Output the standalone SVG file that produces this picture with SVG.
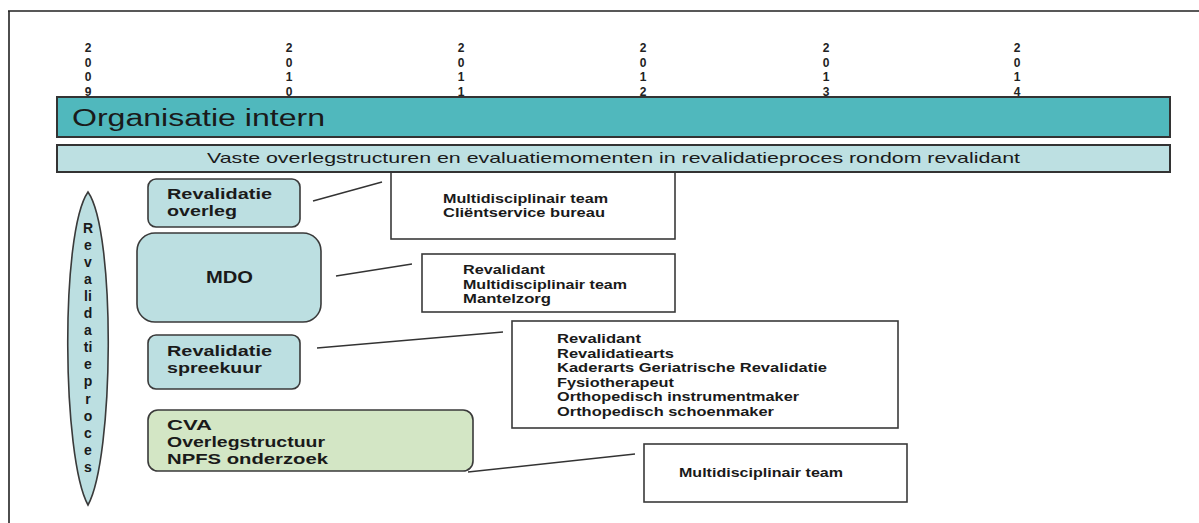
<svg xmlns="http://www.w3.org/2000/svg" width="1199" height="523" viewBox="0 0 1199 523">
<style>
.t{font-family:"Liberation Sans",Arial,sans-serif;fill:#1a1a1a}
.b{font-weight:bold}
.yr{font-family:"Liberation Sans",Arial,sans-serif;font-weight:bold;font-size:12px;fill:#222;text-anchor:middle}
.wbox{fill:#fff;stroke:#3a3a3a;stroke-width:1.6}
.bbox{fill:#bcdfe1;stroke:#3a3a3a;stroke-width:1.6}
.gbox{fill:#d3e6c5;stroke:#3a3a3a;stroke-width:1.6}
.conn{stroke:#333;stroke-width:1.4;fill:none}
</style>
<rect x="0" y="0" width="1199" height="523" fill="#fff"/>
<g id="frame">
<path d="M8,11 H1199 M9,11 V523" stroke="#222" stroke-width="1.6" fill="none"/>
</g>
<g id="years">
<text class="yr" x="88" y="52"><tspan x="88">2</tspan><tspan x="88" dy="14.6">0</tspan><tspan x="88" dy="14.6">0</tspan><tspan x="88" dy="14.6">9</tspan></text>
<text class="yr" x="289" y="52"><tspan x="289">2</tspan><tspan x="289" dy="14.6">0</tspan><tspan x="289" dy="14.6">1</tspan><tspan x="289" dy="14.6">0</tspan></text>
<text class="yr" x="461" y="52"><tspan x="461">2</tspan><tspan x="461" dy="14.6">0</tspan><tspan x="461" dy="14.6">1</tspan><tspan x="461" dy="14.6">1</tspan></text>
<text class="yr" x="643" y="52"><tspan x="643">2</tspan><tspan x="643" dy="14.6">0</tspan><tspan x="643" dy="14.6">1</tspan><tspan x="643" dy="14.6">2</tspan></text>
<text class="yr" x="826" y="52"><tspan x="826">2</tspan><tspan x="826" dy="14.6">0</tspan><tspan x="826" dy="14.6">1</tspan><tspan x="826" dy="14.6">3</tspan></text>
<text class="yr" x="1017" y="52"><tspan x="1017">2</tspan><tspan x="1017" dy="14.6">0</tspan><tspan x="1017" dy="14.6">1</tspan><tspan x="1017" dy="14.6">4</tspan></text>
</g>
<g id="box-team-client">
<rect class="wbox" x="391" y="160" width="284" height="79"/>
<text class="t b" font-size="12.5" x="443" y="203" textLength="165" lengthAdjust="spacingAndGlyphs">Multidisciplinair team</text>
<text class="t b" font-size="12.5" x="443" y="217" textLength="162" lengthAdjust="spacingAndGlyphs">Cliëntservice bureau</text>
</g>
<g id="bar-organisatie">
<rect x="57" y="97" width="1113" height="40" fill="#50b8bd" stroke="#333" stroke-width="2"/>
<text class="t" font-size="23" x="72" y="126" textLength="253" lengthAdjust="spacingAndGlyphs">Organisatie intern</text>
</g>
<g id="bar-vaste">
<rect x="57" y="145" width="1113" height="27" fill="#bde0e2" stroke="#333" stroke-width="2"/>
<text class="t" font-size="15" x="207" y="163" textLength="813" lengthAdjust="spacingAndGlyphs">Vaste overlegstructuren en evaluatiemomenten in revalidatieproces rondom revalidant</text>
</g>
<g id="revalidatieproces">
<path d="M88,192 C116,232 114,458 88,505 C62,458 60,232 88,192 Z" fill="#bcdfe1" stroke="#3a3a3a" stroke-width="1.6"/>
<text class="t b" font-size="14" text-anchor="middle">
<tspan x="88" y="233">R</tspan><tspan x="88" y="250">e</tspan><tspan x="88" y="267">v</tspan><tspan x="88" y="284">a</tspan><tspan x="88" y="301">li</tspan><tspan x="88" y="318">d</tspan><tspan x="88" y="335">a</tspan><tspan x="88" y="352">ti</tspan><tspan x="88" y="369">e</tspan><tspan x="88" y="386">p</tspan><tspan x="88" y="404">r</tspan><tspan x="88" y="421">o</tspan><tspan x="88" y="438">c</tspan><tspan x="88" y="455">e</tspan><tspan x="88" y="472">s</tspan>
</text>
</g>
<g id="revalidatie-overleg">
<rect class="bbox" x="148" y="179" width="152" height="48" rx="8"/>
<text class="t b" font-size="15" x="167" y="199" textLength="105" lengthAdjust="spacingAndGlyphs">Revalidatie</text>
<text class="t b" font-size="15" x="167" y="216" textLength="70" lengthAdjust="spacingAndGlyphs">overleg</text>
</g>
<g id="mdo">
<rect class="bbox" x="137" y="233" width="184" height="89" rx="18"/>
<text class="t b" font-size="16" x="206" y="283" textLength="47" lengthAdjust="spacingAndGlyphs">MDO</text>
</g>
<g id="revalidatie-spreekuur">
<rect class="bbox" x="148" y="335" width="152" height="54" rx="8"/>
<text class="t b" font-size="15" x="167" y="356" textLength="105" lengthAdjust="spacingAndGlyphs">Revalidatie</text>
<text class="t b" font-size="15" x="167" y="373" textLength="95" lengthAdjust="spacingAndGlyphs">spreekuur</text>
</g>
<g id="cva">
<rect class="gbox" x="148" y="410" width="325" height="61" rx="10"/>
<text class="t b" font-size="15" x="167" y="430" textLength="45" lengthAdjust="spacingAndGlyphs">CVA</text>
<text class="t b" font-size="15" x="167" y="447" textLength="158" lengthAdjust="spacingAndGlyphs">Overlegstructuur</text>
<text class="t b" font-size="15" x="167" y="464" textLength="161" lengthAdjust="spacingAndGlyphs">NPFS onderzoek</text>
</g>
<g id="box-mdo-members">
<rect class="wbox" x="422" y="254" width="253" height="58"/>
<text class="t b" font-size="12.5" x="463" y="274" textLength="82" lengthAdjust="spacingAndGlyphs">Revalidant</text>
<text class="t b" font-size="12.5" x="463" y="289" textLength="164" lengthAdjust="spacingAndGlyphs">Multidisciplinair team</text>
<text class="t b" font-size="12.5" x="463" y="303" textLength="88" lengthAdjust="spacingAndGlyphs">Mantelzorg</text>
</g>
<g id="box-spreekuur-members">
<rect class="wbox" x="512" y="321" width="386" height="107"/>
<text class="t b" font-size="12.5" x="557" y="343" textLength="84" lengthAdjust="spacingAndGlyphs">Revalidant</text>
<text class="t b" font-size="12.5" x="557" y="357.5" textLength="117" lengthAdjust="spacingAndGlyphs">Revalidatiearts</text>
<text class="t b" font-size="12.5" x="557" y="372" textLength="270" lengthAdjust="spacingAndGlyphs">Kaderarts Geriatrische Revalidatie</text>
<text class="t b" font-size="12.5" x="557" y="386.5" textLength="117" lengthAdjust="spacingAndGlyphs">Fysiotherapeut</text>
<text class="t b" font-size="12.5" x="557" y="401" textLength="242" lengthAdjust="spacingAndGlyphs">Orthopedisch instrumentmaker</text>
<text class="t b" font-size="12.5" x="557" y="415.5" textLength="217" lengthAdjust="spacingAndGlyphs">Orthopedisch schoenmaker</text>
</g>
<g id="box-cva-members">
<rect class="wbox" x="644" y="444" width="263" height="58"/>
<text class="t b" font-size="13" x="679" y="477" textLength="164" lengthAdjust="spacingAndGlyphs">Multidisciplinair team</text>
</g>
<g id="connectors">
<line class="conn" x1="313" y1="201" x2="382" y2="182"/>
<line class="conn" x1="336" y1="276" x2="412" y2="264"/>
<line class="conn" x1="317" y1="348" x2="503" y2="332"/>
<line class="conn" x1="468" y1="472" x2="635" y2="454"/>
</g>
</svg>
